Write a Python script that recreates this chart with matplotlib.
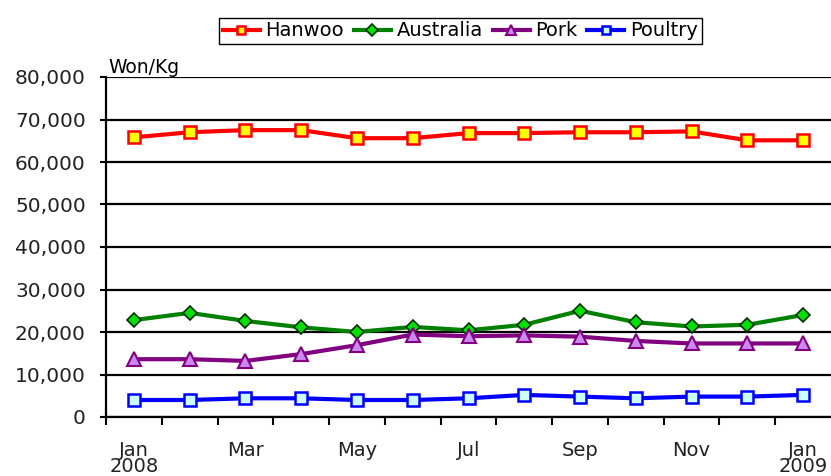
import numpy as np
from matplotlib import pyplot as plt

months = ["Jan\n2008", "", "Mar", "", "May", "", "Jul", "", "Sep", "", "Nov", "", "Jan\n2009"]
hanwoo = [65800, 67000, 67500, 67500, 65600, 65600, 66800, 66800, 67000, 67000, 67200, 65100, 65100]
australia = [22800, 24500, 22600, 21100, 20000, 21200, 20400, 21700, 25000, 22300, 21300, 21700, 24000]
pork = [13600, 13600, 13200, 14800, 16900, 19400, 19000, 19200, 18900, 17900, 17300, 17300, 17300]
poultry = [4000, 4000, 4400, 4400, 4000, 4000, 4400, 5200, 4800, 4400, 4800, 4800, 5200]

x = np.arange(len(months))

fig = plt.figure(figsize=(8.31, 4.76), dpi=100)
ax = fig.add_axes([106 / 831, 1 - 417 / 476, 1 - 106 / 831, (417 - 77) / 476])

ax.plot(x, hanwoo, color="red", lw=3, marker="s", ms=8.5, mfc="yellow", mec="red", mew=1.8, label="Hanwoo")
ax.plot(x, australia, color="green", lw=3, marker="D", ms=7.5, mfc="#00e000", mec="#003000", mew=1.2, label="Australia")
ax.plot(x, pork, color="purple", lw=3, marker="^", ms=10, mfc="#cc88ee", mec="purple", mew=1.5, label="Pork")
ax.plot(x, poultry, color="blue", lw=3, marker="s", ms=8.5, mfc="#ccffff", mec="blue", mew=1.8, label="Poultry")

ax.set_xlim(-0.5, 12.5)
ax.set_ylim(0, 80000)
ax.set_yticks(np.arange(0, 80001, 10000))
ax.set_yticklabels([f"{v:,}" for v in range(0, 80001, 10000)])
ax.yaxis.grid(True, color="black", lw=1.6)
ax.set_axisbelow(True)

ax.set_xticks(x)
ax.set_xticklabels(months, linespacing=0.82)
ax.set_xticks(np.arange(-0.5, 12.5, 1), minor=True)
ax.tick_params(axis="x", which="major", length=0, pad=17, labelsize=14, colors="#222222")
ax.tick_params(axis="x", which="minor", length=6, width=1.5, direction="out")
ax.tick_params(axis="y", length=4.5, width=1.5, pad=10, labelsize=14.5, labelcolor="#222222")

for s in ["top", "right"]:
    ax.spines[s].set_visible(False)
for s in ["left", "bottom"]:
    ax.spines[s].set_linewidth(1.6)

ax.text(0.003, 1.0, "Won/Kg", transform=ax.transAxes, fontsize=13.5, ha="left", va="bottom")

fig.legend(loc="center", bbox_to_anchor=(0.554, 0.935), ncol=4, fontsize=14,
           frameon=True, fancybox=False, edgecolor="black", framealpha=1,
           handlelength=1.9, handletextpad=0.3, columnspacing=0.5, borderpad=0.2,
           markerscale=0.75)

fig.savefig("out.png", dpi=100)
